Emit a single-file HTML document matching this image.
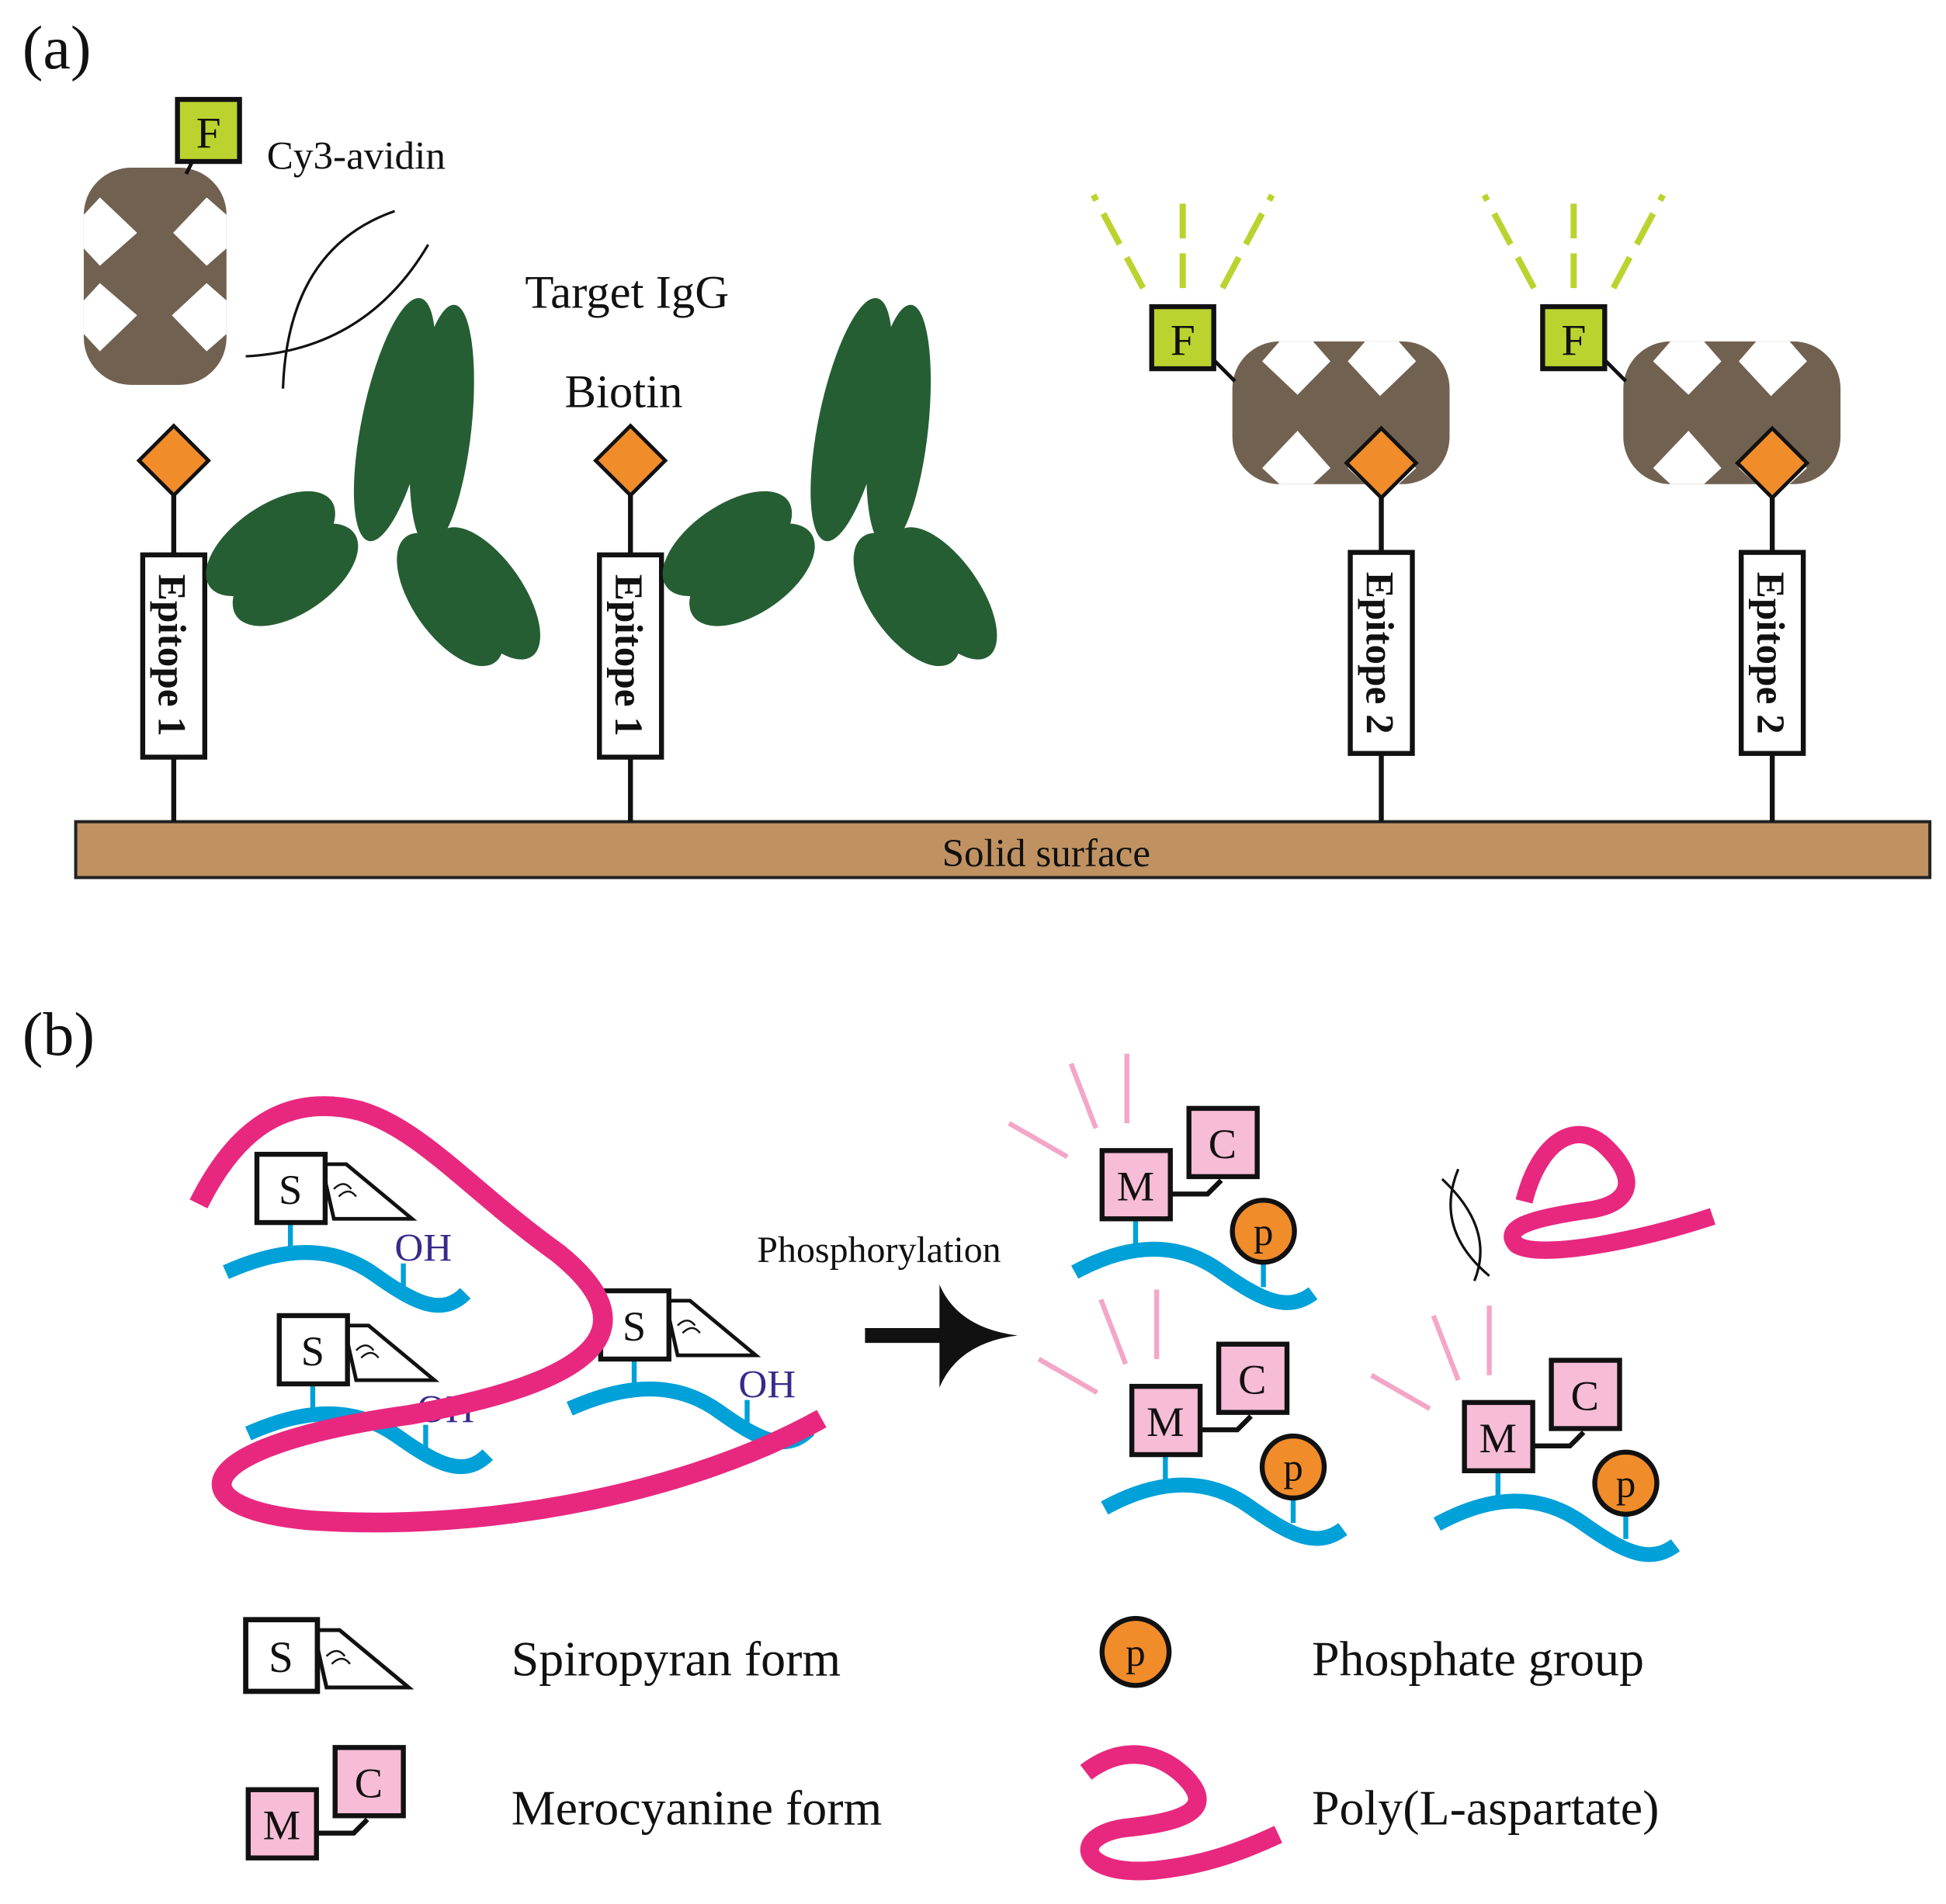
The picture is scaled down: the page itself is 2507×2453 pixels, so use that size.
<!DOCTYPE html>
<html><head><meta charset="utf-8"><style>
html,body{margin:0;padding:0;background:#fff;}
svg{display:block;}
text{font-family:"Liberation Serif",serif;fill:#111;}
</style></head><body>
<svg width="2507" height="2453" viewBox="0 0 1568 1534" xmlns="http://www.w3.org/2000/svg">
<defs>
<g id="avid">
<rect x="0" y="0" width="175" height="115" rx="38" fill="#716150"/>
<polygon fill="#fff" points="38,0 24,16 52.5,43 79,16 65,0"/>
<polygon fill="#fff" points="107,0 93,16 119,44 148,16 134,0"/>
<polygon fill="#fff" points="38,115 24,102 52.5,72 79,102 65,115"/>
<polygon fill="#fff" points="107,115 93,102 119,72 148,102 134,115"/>
</g>
<g id="ab" fill="#265e34">
<ellipse cx="0" cy="0" rx="26" ry="100" transform="rotate(12)"/>
<ellipse cx="38" cy="5" rx="24" ry="98" transform="rotate(6 38 5)"/>
<ellipse cx="-100" cy="100" rx="60" ry="30" transform="rotate(-35 -100 100)"/>
<ellipse cx="-80" cy="125" rx="58" ry="30" transform="rotate(-35 -80 125)"/>
<ellipse cx="45" cy="145" rx="30" ry="62" transform="rotate(-35 45 145)"/>
<ellipse cx="75" cy="140" rx="28" ry="62" transform="rotate(-35 75 140)"/>
</g>
<g id="sp">
<polygon points="52,8 72,8 125,52 62,52" fill="#fff" stroke="#111" stroke-width="3"/>
<rect x="0" y="0" width="55" height="55" fill="#fff" stroke="#111" stroke-width="4"/>
<text x="27" y="40" font-size="34" text-anchor="middle">S</text>
<path d="M62,28 q8,-8 14,0 M66,34 q8,-8 14,0" stroke="#111" stroke-width="1.5" fill="none"/>
</g>
<g id="spu">
<line x1="27" y1="55" x2="27" y2="82" stroke="#00a0d8" stroke-width="4"/>
<path d="M-25,95 C20,75 60,72 95,97 C130,122 150,130 168,112" stroke="#00a0d8" stroke-width="12" fill="none"/>
<line x1="118" y1="88" x2="118" y2="110" stroke="#00a0d8" stroke-width="4"/>
<text x="111" y="86" font-size="32" style="fill:#3a2a8a">OH</text>
<use href="#sp"/>
</g>
<g id="mc">
<path d="M55,35 L85,35 L96,24" stroke="#111" stroke-width="4" fill="none"/>
<rect x="70" y="-34" width="55" height="55" fill="#f7bcd6" stroke="#111" stroke-width="4"/>
<text x="97" y="6" font-size="34" text-anchor="middle">C</text>
<rect x="0" y="0" width="55" height="55" fill="#f7bcd6" stroke="#111" stroke-width="4"/>
<text x="27" y="40" font-size="34" text-anchor="middle">M</text>
</g>
<g id="mcu">
<g stroke="#f4a6c8" stroke-width="4">
<line x1="20" y1="-78" x2="20" y2="-22"/>
<line x1="-25" y1="-70" x2="-5" y2="-18"/>
<line x1="-75" y1="-22" x2="-28" y2="5"/>
</g>
<line x1="27" y1="55" x2="27" y2="82" stroke="#00a0d8" stroke-width="4"/>
<path d="M-22,98 C20,75 60,72 95,97 C130,122 150,130 170,115" stroke="#00a0d8" stroke-width="12" fill="none"/>
<line x1="130" y1="88" x2="130" y2="110" stroke="#00a0d8" stroke-width="4"/>
<use href="#mc"/>
<circle cx="130" cy="65" r="25" fill="#f08c2a" stroke="#111" stroke-width="4"/>
<text x="130" y="76" font-size="32" text-anchor="middle">p</text>
</g>
<g id="fbox">
<rect x="0" y="0" width="50" height="50" fill="#bcd32f" stroke="#111" stroke-width="4"/>
<text x="25" y="39" font-size="36" text-anchor="middle">F</text>
</g>
<g id="rays" stroke="#bcd32f" stroke-width="5" stroke-dasharray="28,12" fill="none">
<line x1="0" y1="-15" x2="0" y2="-95"/>
<line x1="-32" y1="-15" x2="-72" y2="-90"/>
<line x1="32" y1="-15" x2="72" y2="-90"/>
</g>
</defs>

<text x="18" y="55" font-size="50">(a)</text>
<text x="18" y="850" font-size="50">(b)</text>

<rect x="61" y="662" width="1494" height="45" fill="#c09262" stroke="#222" stroke-width="2.5"/>
<text x="843" y="698" font-size="32" text-anchor="middle">Solid surface</text>

<g stroke="#111" stroke-width="4">
<line x1="140" y1="370" x2="140" y2="662"/>
<line x1="508" y1="370" x2="508" y2="662"/>
<line x1="1113" y1="373" x2="1113" y2="662"/>
<line x1="1428" y1="373" x2="1428" y2="662"/>
</g>

<use href="#avid" transform="translate(125,222.5) rotate(90) translate(-87.5,-57.5)"/>
<use href="#avid" transform="translate(993,275)"/>
<use href="#avid" transform="translate(1308,275)"/>

<g fill="#f08c2a" stroke="#111" stroke-width="3">
<polygon points="140,343 168,371 140,399 112,371"/>
<polygon points="508,343 536,371 508,399 480,371"/>
<polygon points="1113,345 1141,373 1113,401 1085,373"/>
<polygon points="1428,345 1456,373 1428,401 1400,373"/>
</g>

<g fill="#fff" stroke="#111" stroke-width="4">
<rect x="115" y="447" width="50" height="163"/>
<rect x="483" y="447" width="50" height="163"/>
<rect x="1088" y="445" width="50" height="162"/>
<rect x="1403" y="445" width="50" height="162"/>
</g>
<g font-size="32">
<text transform="translate(128,528) rotate(90)" text-anchor="middle" style="font-weight:bold">Epitope 1</text>
<text transform="translate(496,528) rotate(90)" text-anchor="middle" style="font-weight:bold">Epitope 1</text>
<text transform="translate(1101,526) rotate(90)" text-anchor="middle" style="font-weight:bold">Epitope 2</text>
<text transform="translate(1416,526) rotate(90)" text-anchor="middle" style="font-weight:bold">Epitope 2</text>
</g>

<line x1="155" y1="130" x2="150" y2="140" stroke="#111" stroke-width="3"/>
<use href="#fbox" transform="translate(143,80)"/>
<line x1="978" y1="290" x2="995" y2="307" stroke="#111" stroke-width="3"/>
<use href="#fbox" transform="translate(928,247)"/>
<use href="#rays" transform="translate(953,247)"/>
<line x1="1293" y1="290" x2="1310" y2="307" stroke="#111" stroke-width="3"/>
<use href="#fbox" transform="translate(1243,247)"/>
<use href="#rays" transform="translate(1268,247)"/>

<use href="#ab" transform="translate(318,338)"/>
<use href="#ab" transform="translate(686,338)"/>

<g stroke="#111" stroke-width="2" fill="none">
<path d="M198,287 Q295,282 345,197"/>
<path d="M228,313 Q232,200 318,170"/>
</g>

<text x="215" y="136" font-size="32">Cy3-avidin</text>
<text x="423" y="248" font-size="38">Target IgG</text>
<text x="455" y="328" font-size="38">Biotin</text>

<use href="#spu" transform="translate(207,930)"/>
<use href="#spu" transform="translate(225,1060)"/>
<use href="#spu" transform="translate(484,1040)"/>
<path d="M160,970 C190,910 230,880 290,895 C340,910 380,960 450,1010 C530,1075 470,1115 330,1140 C150,1165 140,1215 250,1225 C400,1235 560,1200 662,1143" stroke="#e8287f" stroke-width="16" fill="none"/>

<text x="610" y="1017" font-size="30">Phosphorylation</text>
<line x1="697" y1="1076" x2="765" y2="1076" stroke="#111" stroke-width="12"/>
<path d="M757,1035 Q772,1070 820,1076 Q772,1082 757,1118 Z" fill="#111"/>

<use href="#mcu" transform="translate(888,927)"/>
<use href="#mcu" transform="translate(912,1117)"/>
<use href="#mcu" transform="translate(1180,1130)"/>

<g stroke="#111" stroke-width="2" fill="none">
<path d="M1162,950 Q1205,990 1188,1032"/>
<path d="M1175,942 Q1155,990 1200,1028"/>
</g>
<path d="M1228,968 C1240,920 1270,900 1295,925 C1320,950 1315,970 1280,975 C1230,982 1210,990 1222,1003 C1240,1015 1320,1000 1380,980" stroke="#e8287f" stroke-width="14" fill="none"/>

<use href="#sp" transform="translate(198,1305) scale(1.05)"/>
<text x="412" y="1350" font-size="40">Spiropyran form</text>
<circle cx="915" cy="1331" r="27" fill="#f08c2a" stroke="#111" stroke-width="4"/>
<text x="915" y="1342" font-size="32" text-anchor="middle">p</text>
<text x="1057" y="1350" font-size="40">Phosphate group</text>
<use href="#mc" transform="translate(200,1442)"/>
<text x="412" y="1470" font-size="40">Merocyanine form</text>
<path d="M875,1428 C905,1405 935,1412 955,1432 C980,1458 955,1468 905,1473 C862,1480 870,1512 930,1507 C970,1503 1000,1492 1030,1478" stroke="#e8287f" stroke-width="15" fill="none"/>
<text x="1057" y="1470" font-size="40">Poly(L-aspartate)</text>
</svg>
</body></html>
